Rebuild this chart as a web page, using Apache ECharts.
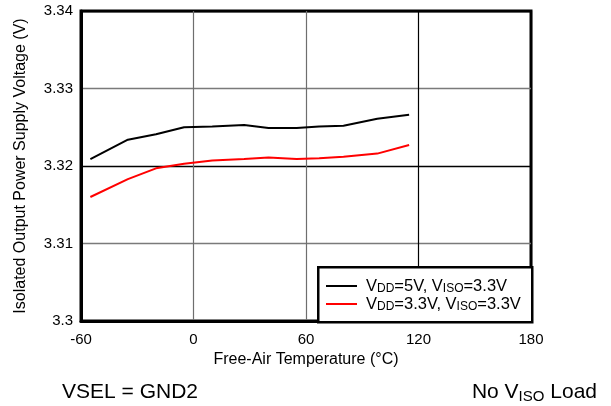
<!DOCTYPE html>
<html>
<head>
<meta charset="utf-8">
<script src="https://cdn.jsdelivr.net/npm/echarts@6/dist/echarts.min.js"></script>
<style>html,body{margin:0;padding:0;background:#fff}#c{width:611px;height:406px}</style>
</head>
<body>
<div id="c"></div>
<script>
// Temperatures (°C)
const temps = [-55, -35, -20, -5, 10, 27, 40, 55, 67, 80, 98, 115];
// VDD=5V, VISO=3.3V
const vdd5 = [3.3209, 3.3234, 3.3241, 3.3250, 3.3251, 3.3253, 3.3249, 3.3249, 3.3251, 3.3252, 3.3261, 3.3266];
// VDD=3.3V, VISO=3.3V
const vdd33 = [3.3160, 3.3183, 3.3197, 3.3203, 3.3207, 3.3209, 3.3211, 3.3209, 3.3210, 3.3212, 3.3216, 3.3227];
const xTicks = [-60, 0, 60, 120, 180];
const yTicks = [3.30, 3.31, 3.32, 3.33, 3.34];

const FONT = '"Liberation Sans", Arial, sans-serif';
const pair = (xs, ys) => xs.map((x, i) => [x, ys[i]]);

const chart = echarts.init(document.getElementById('c'), null, {renderer: 'canvas'});
const legendRich = {
  m: {fontSize: 16.5, fontFamily: FONT, color: '#000', lineHeight: 18, fontWeight: 'normal'},
  s: {fontSize: 12, fontFamily: FONT, color: '#000', lineHeight: 12, padding: [6, 0, 0, 0], fontWeight: 'normal'}
};
const legendLabels = {
  'VDD=5V, VISO=3.3V': '{m|V}{s|DD}{m|=5V, V}{s|ISO}{m|=3.3V}',
  'VDD=3.3V, VISO=3.3V': '{m|V}{s|DD}{m|=3.3V, V}{s|ISO}{m|=3.3V}'
};
chart.setOption({
  animation: false,
  backgroundColor: '#fff',
  grid: {left: 81, right: 80, top: 11, bottom: 85, show: true, borderColor: '#000', borderWidth: 3, backgroundColor: 'transparent'},
  title: [
    {text: 'VSEL = GND2', left: 57, top: 377, textStyle: {fontFamily: FONT, fontSize: 21, fontWeight: 'normal', color: '#000'}},
    {text: '{m|No V}{s|ISO}{m| Load}', right: 9, top: 375,
     textStyle: {fontWeight: 'normal', rich: {
       m: {fontFamily: FONT, fontSize: 21, color: '#000', lineHeight: 24, fontWeight: 'normal'},
       s: {fontFamily: FONT, fontSize: 15, color: '#000', lineHeight: 15, padding: [9, 0, 0, 0], fontWeight: 'normal'}
     }}}
  ],
  graphic: [{
    type: 'rect', z: 5, left: 317, top: 266,
    shape: {width: 214, height: 55},
    style: {fill: '#fff', stroke: '#000', lineWidth: 2.5}
  }],
  legend: {
    z: 10, orient: 'vertical', left: 326, top: 277, itemGap: 0,
    itemWidth: 31, itemHeight: 2, icon: 'rect', padding: 0,
    data: ['VDD=5V, VISO=3.3V', 'VDD=3.3V, VISO=3.3V'],
    formatter: n => legendLabels[n],
    textStyle: {fontSize: 16, fontFamily: FONT, color: '#000', rich: legendRich, padding: [0, 0, 0, 4]}
  },
  xAxis: {
    type: 'value', min: -60, max: 180, interval: 60,
    name: 'Free-Air Temperature (°C)', nameLocation: 'middle', nameGap: 31,
    nameTextStyle: {fontFamily: FONT, fontSize: 16, color: '#000'},
    axisLine: {show: true, onZero: false, lineStyle: {color: '#000', width: 3}},
    axisTick: {show: false},
    axisLabel: {fontFamily: FONT, fontSize: 15, color: '#000', margin: 11},
    splitLine: {show: true, lineStyle: {color: ['#000', '#6e6e6e', '#6e6e6e', '#000', '#000'], width: 1.2}}
  },
  yAxis: {
    type: 'value', min: 3.30, max: 3.34, interval: 0.01,
    name: 'Isolated Output Power Supply Voltage (V)', nameLocation: 'middle', nameGap: 52,
    nameTextStyle: {fontFamily: FONT, fontSize: 16, color: '#000'},
    axisLine: {show: true, onZero: false, lineStyle: {color: '#000', width: 3}},
    axisTick: {show: false},
    axisLabel: {fontFamily: FONT, fontSize: 15, color: '#000', margin: 8,
      formatter: v => String(parseFloat(v.toFixed(2)))},
    splitLine: {show: true, lineStyle: {color: ['#000', '#7a7a7a'], width: 1.3}}
  },
  series: [
    {name: 'VDD=5V, VISO=3.3V', type: 'line', data: pair(temps, vdd5), showSymbol: false, symbol: 'none',
     lineStyle: {color: '#000', width: 2}, itemStyle: {color: '#000'}, z: 3},
    {name: 'VDD=3.3V, VISO=3.3V', type: 'line', data: pair(temps, vdd33), showSymbol: false, symbol: 'none',
     lineStyle: {color: '#ff0000', width: 2}, itemStyle: {color: '#ff0000'}, z: 3}
  ]
});
</script>
</body>
</html>
